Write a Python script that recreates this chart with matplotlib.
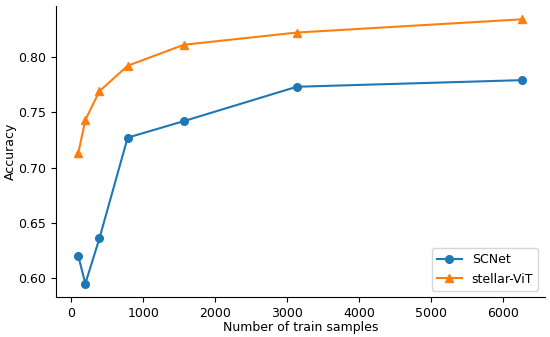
import matplotlib
matplotlib.use("Agg")
import matplotlib.pyplot as plt

# train set sizes and accuracies
samples = [98, 196, 392, 784, 1568, 3136, 6272]
scnet_acc = [0.620, 0.595, 0.636, 0.727, 0.742, 0.773, 0.779]
vit_acc = [0.713, 0.743, 0.769, 0.792, 0.811, 0.822, 0.834]

plt.rcParams["font.size"] = 9

fig = plt.figure(figsize=(5.5, 3.37), dpi=100)
ax = fig.add_axes([0.102, 0.119, 0.888, 0.863])

ax.plot(samples, scnet_acc, marker="o", markersize=5.5, linewidth=1.5, label="SCNet")
ax.plot(samples, vit_acc, marker="^", markersize=5.5, linewidth=1.5, label="stellar-ViT")

ax.set_xlabel("Number of train samples", labelpad=1)
ax.set_ylabel("Accuracy", labelpad=1)
ax.set_yticks([0.60, 0.65, 0.70, 0.75, 0.80])
ax.spines[["top", "right"]].set_visible(False)
ax.legend(loc="lower right")

fig.savefig("out.png", dpi=100)
